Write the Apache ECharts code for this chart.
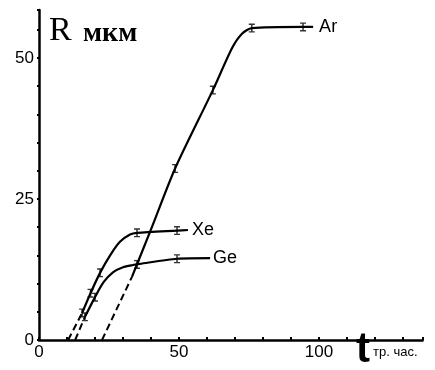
<!DOCTYPE html>
<html>
<head>
<meta charset="utf-8">
<script src="https://cdn.jsdelivr.net/npm/echarts@6/dist/echarts.min.js"></script>
<style>
  html, body { margin: 0; padding: 0; background: #fff; }
  #chart { width: 435px; height: 370px; }
</style>
</head>
<body>
<div id="chart"></div>
<script>
// точки кривых R(t), мкм / час
const xTicks = [0, 50, 100];
const yTicks = [0, 25, 50];

const arDash = [[22.5, 0], [33.2, 11.2]];
const arLine = [[33.2, 11.2], [40, 19.6], [48.6, 30.4], [62.1, 44.3], [69, 51.8], [72.5, 54.3], [76, 55.3], [94.3, 55.5], [97.9, 55.5]];
const arBars = [[48.6, 30.4], [62.1, 44.3], [76, 55.3], [94.3, 55.5]];

const xeDash = [[10.4, 0], [15.4, 4.8]];
const xeLine = [[15.4, 4.8], [18.4, 8.3], [21.8, 11.9], [25.4, 15.0], [28.9, 17.4], [32.5, 18.7], [35, 19.0], [49.3, 19.4], [53.2, 19.5]];
const xeBars = [[15.4, 4.8], [18.4, 8.3], [21.8, 11.9], [35, 19.0], [49.3, 19.4]];

const geDash = [[12.9, 0], [16.4, 4.1]];
const geLine = [[16.4, 4.1], [20, 7.6], [23, 10.2], [26.4, 12.0], [30, 12.9], [33.6, 13.3], [36, 13.5], [49.3, 14.4], [61.1, 14.5]];
const geBars = [[16.4, 4.1], [20, 7.6], [35, 13.4], [49.3, 14.4]];

const errBar = 'path://M0,0H6V1.5H3.75V8.5H6V10H0V8.5H2.25V1.5H0Z';

let myChart = echarts.init(document.getElementById('chart'));

function solid(name, data, labelDist) {
  return {
    name: name,
    type: 'line',
    data: data,
    smooth: 0.25,
    showSymbol: false,
    lineStyle: {color: '#000', width: 2.2},
    endLabel: {
      show: true,
      formatter: '{a}',
      distance: labelDist,
      color: '#000',
      fontSize: 18,
      fontFamily: 'Liberation Sans'
    },
    z: 3
  };
}

function dashed(data) {
  return {
    type: 'line',
    data: data,
    showSymbol: false,
    lineStyle: {color: '#000', width: 2, type: [7, 4]},
    z: 3
  };
}

function bars(data) {
  return {
    type: 'scatter',
    data: data,
    symbol: errBar,
    symbolSize: [6, 9],
    symbolKeepAspect: false,
    itemStyle: {color: '#000'},
    z: 4
  };
}

let option = {
  animation: false,
  backgroundColor: '#fff',
  grid: {left: 39, right: 12.4, top: 10, bottom: 30},
  xAxis: {
    type: 'value',
    min: 0,
    max: 137,
    interval: 10,
    splitLine: {show: false},
    axisLine: {lineStyle: {color: '#000', width: 2.5}},
    axisTick: {inside: true, length: 3, lineStyle: {color: '#000', width: 2}},
    axisLabel: {
      margin: 4,
      color: '#000',
      fontSize: 17,
      fontFamily: 'Liberation Sans',
      formatter: function (v) { return xTicks.indexOf(v) >= 0 ? String(v) : ''; }
    }
  },
  yAxis: {
    type: 'value',
    min: 0,
    max: 58.5,
    interval: 5,
    splitLine: {show: false},
    axisLine: {lineStyle: {color: '#000', width: 2.5}},
    axisTick: {length: 2, lineStyle: {color: '#000', width: 2}},
    axisLabel: {
      margin: 5,
      color: '#000',
      fontSize: 17,
      fontFamily: 'Liberation Sans',
      padding: [0, 0, 13, 0],
      formatter: function (v) { return yTicks.indexOf(v) >= 0 ? String(v) : ''; }
    }
  },
  graphic: [
    {type: 'text', style: {x: 49, y: 31, text: 'R', font: '34px "Liberation Serif"', fill: '#000', textVerticalAlign: 'middle'}},
    {type: 'text', style: {x: 83, y: 34, text: 'мкм', font: 'bold 28px "Liberation Serif"', fill: '#000', textVerticalAlign: 'middle'}},
    {type: 'text', style: {x: 356, y: 350, text: 't', font: 'bold 42px "Liberation Sans"', fill: '#000', textVerticalAlign: 'middle'}},
    {type: 'text', style: {x: 373, y: 352, text: 'тр. час.', font: '13px "Liberation Sans"', fill: '#000', textVerticalAlign: 'middle'}}
  ],
  series: [
    dashed(arDash), solid('Ar', arLine, 6), bars(arBars),
    dashed(xeDash), solid('Xe', xeLine, 4), bars(xeBars),
    dashed(geDash), solid('Ge', geLine, 3), bars(geBars)
  ]
};
myChart.setOption(option);
</script>
</body>
</html>
